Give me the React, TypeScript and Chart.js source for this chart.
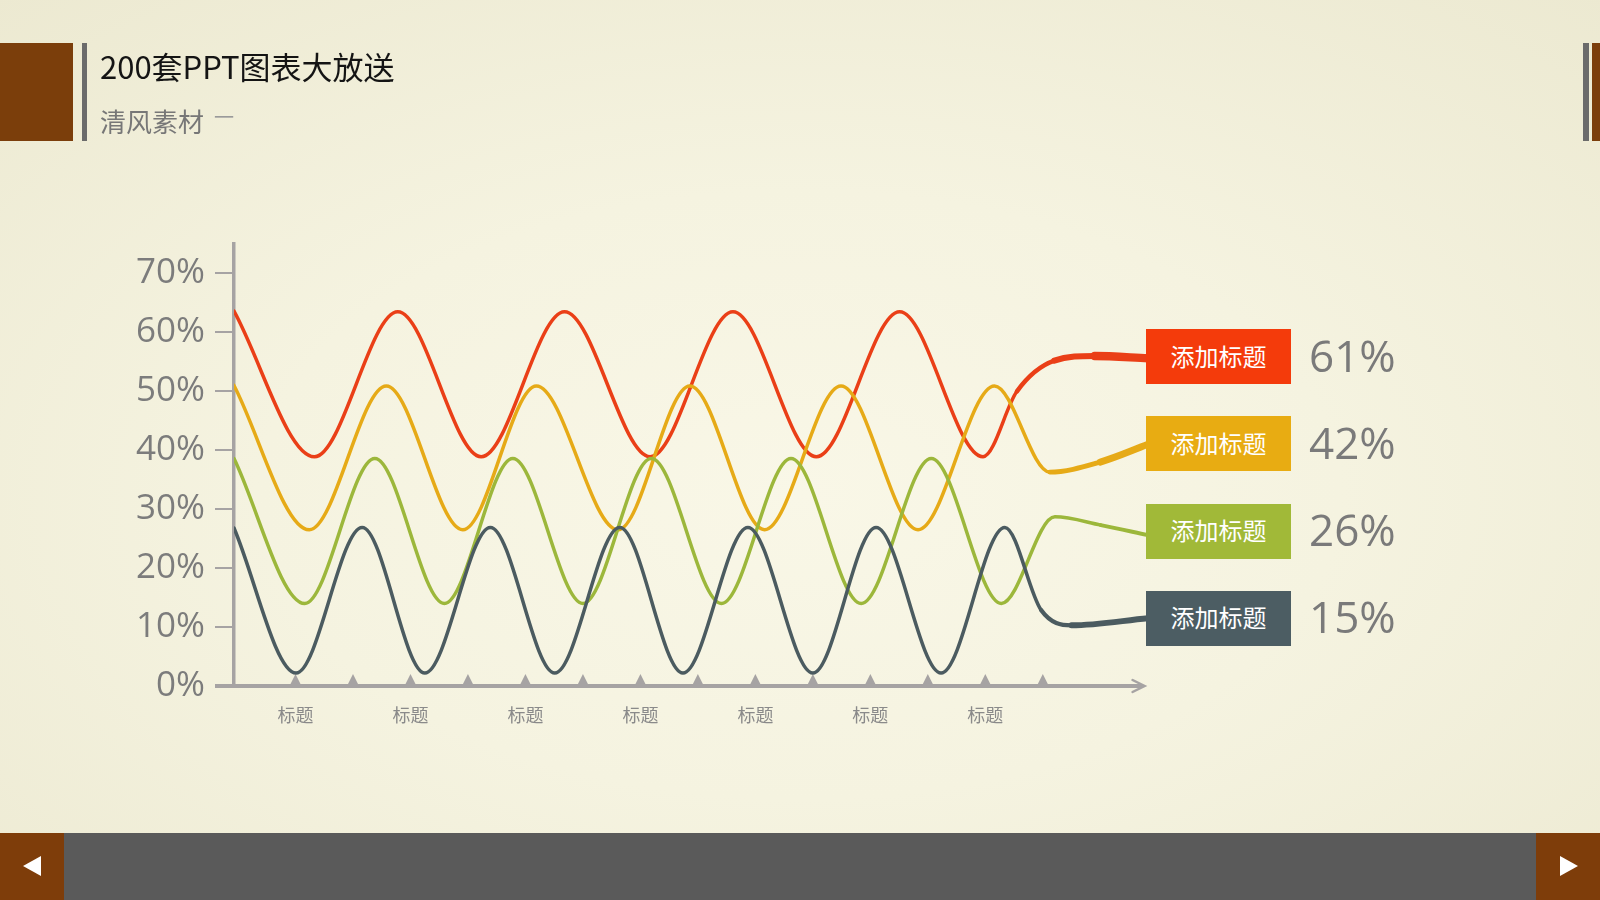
import React, { useEffect, useRef } from 'react';
import { Chart, registerables } from 'chart.js';

Chart.register(...registerables);

// ---------- data ----------
const xTickValues = [1, 2, 3, 4, 5, 6, 7, 8, 9, 10, 11, 12, 13, 14];
const xTickLabels = ['标题', '', '标题', '', '标题', '', '标题', '', '标题', '', '标题', '', '标题', ''];
const yMin = 0;
const yMax = 75;
const yStep = 10;

const seriesNames = ['添加标题', '添加标题', '添加标题', '添加标题'];
const seriesPercents = ['61%', '42%', '26%', '15%'];

const redX = [-0.07, 1.33, 2.78, 4.23, 5.68, 7.17, 8.61, 10.06, 11.51, 12.96, 13.55, 14.2, 14.9, 15.83];
const redY = [63.6, 38.9, 63.5, 38.9, 63.5, 38.9, 63.5, 38.9, 63.5, 38.9, 50.0, 55.2, 56.0, 55.6];

const yellowX = [-0.07, 1.24, 2.58, 3.91, 5.19, 6.61, 7.86, 9.16, 10.49, 11.83, 13.16, 14.12, 15.0, 15.83];
const yellowY = [51.0, 26.5, 50.9, 26.5, 50.9, 26.5, 50.9, 26.5, 50.9, 26.5, 50.9, 36.3, 38.0, 41.0];

const greenX = [-0.07, 1.16, 2.38, 3.59, 4.78, 6.0, 7.19, 8.41, 9.62, 10.84, 12.06, 13.28, 14.21, 15.01, 15.83];
const greenY = [38.6, 14.0, 38.6, 14.0, 38.6, 14.0, 38.6, 14.0, 38.6, 14.0, 38.6, 14.0, 28.7, 27.3, 25.6];

const darkX = [-0.07, 1.01, 2.16, 3.25, 4.39, 5.51, 6.64, 7.74, 8.87, 10.0, 11.1, 12.23, 13.34, 13.97, 14.5, 15.83];
const darkY = [26.8, 2.2, 26.9, 2.2, 26.9, 2.2, 26.9, 2.2, 26.9, 2.2, 26.9, 2.2, 26.9, 12.9, 10.3, 11.5];

// ---------- style ----------
const X_MIN = -0.07;
const X_MAX = 15.83;
const X_ARROW = 15.77;
const AXIS_COLOR = '#a6a3a3';
const LINE_COLORS = ['#ea3f17', '#e6aa17', '#9cb73b', '#4b5b60'];
const BOX_COLORS = ['#f43b0b', '#e8ac12', '#a1b938', '#4c5d63'];
const BASE_WIDTH = 3.5;
// per series: map of segment start index -> width (thickening tails)
const TAIL_WIDTHS: Record<number, number>[] = [
  { 10: 4.5, 11: 6, 12: 8.5 },
  { 11: 4.8, 12: 7 },
  { 13: 4, 14: 4.5 },
  { 13: 4.3, 14: 6 },
];
const CJK = '"Noto Sans CJK SC", "Noto Sans", sans-serif';
const NUM = '"Open Sans", "Noto Sans", sans-serif';

const axisPlugin = {
  id: 'slideAxis',
  beforeDatasetsDraw(chart: any) {
    const { ctx, chartArea, scales } = chart;
    const xs = scales.x;
    const ys = scales.y;
    const y0 = ys.getPixelForValue(0);
    const left = chartArea.left - 19;
    const tip = xs.getPixelForValue(X_ARROW);
    ctx.save();
    ctx.strokeStyle = AXIS_COLOR;
    ctx.fillStyle = AXIS_COLOR;
    ctx.lineWidth = 4;
    ctx.beginPath();
    ctx.moveTo(left, y0);
    ctx.lineTo(tip - 2, y0);
    ctx.stroke();
    // arrow head
    ctx.lineWidth = 2.5;
    ctx.lineCap = 'round';
    ctx.beginPath();
    ctx.moveTo(tip - 12, y0 - 6);
    ctx.lineTo(tip, y0);
    ctx.lineTo(tip - 12, y0 + 6);
    ctx.stroke();
    // triangles at ticks
    xTickValues.forEach((v) => {
      const px = xs.getPixelForValue(v);
      ctx.beginPath();
      ctx.moveTo(px - 6, y0);
      ctx.lineTo(px, y0 - 12);
      ctx.lineTo(px + 6, y0);
      ctx.closePath();
      ctx.fill();
    });
    ctx.restore();
  },
};

function buildDataset(xs: number[], ys: number[], i: number) {
  const tails = TAIL_WIDTHS[i];
  return {
    label: seriesNames[i],
    data: xs.map((x, k) => ({ x, y: ys[k] })),
    borderColor: LINE_COLORS[i],
    borderWidth: BASE_WIDTH,
    borderCapStyle: 'round' as const,
    borderJoinStyle: 'round' as const,
    cubicInterpolationMode: 'monotone' as const,
    pointRadius: 0,
    fill: false,
    segment: {
      borderWidth: (ctx: any) => (tails[ctx.p0DataIndex] !== undefined ? tails[ctx.p0DataIndex] : BASE_WIDTH),
    },
  };
}

function ChartCanvas() {
  const ref = useRef<HTMLCanvasElement | null>(null);
  useEffect(() => {
    if (!ref.current) return;
    const chart = new Chart(ref.current, {
      type: 'line',
      data: {
        datasets: [
          buildDataset(darkX, darkY, 3),
          buildDataset(greenX, greenY, 2),
          buildDataset(yellowX, yellowY, 1),
          buildDataset(redX, redY, 0),
        ],
      },
      options: {
        animation: false,
        responsive: false,
        events: [],
        layout: { padding: { left: 0, top: 244, right: 452, bottom: 164 } },
        plugins: { legend: { display: false }, tooltip: { enabled: false } },
        scales: {
          x: {
            type: 'linear',
            min: X_MIN,
            max: X_MAX,
            afterFit: (s: any) => { s.height = 50; },
            afterBuildTicks: (s: any) => { s.ticks = xTickValues.map((v) => ({ value: v })); },
            grid: { display: false, drawTicks: false },
            border: { display: false },
            ticks: {
              autoSkip: false,
              maxRotation: 0,
              padding: 18,
              color: '#8a8a8a',
              font: { size: 18, family: CJK },
              callback: (_v: any, i: number) => xTickLabels[i],
            },
          },
          y: {
            type: 'linear',
            min: yMin,
            max: yMax,
            afterFit: (s: any) => { s.width = 234; },
            grid: { display: true, drawOnChartArea: false, drawTicks: true, tickLength: 19, color: AXIS_COLOR, lineWidth: 2 },
            border: { display: true, color: AXIS_COLOR, width: 3.5 },
            ticks: {
              stepSize: yStep,
              includeBounds: false,
              padding: 10,
              color: '#7c7c7c',
              font: { size: 35, family: NUM },
              callback: (v: any) => `${v}%`,
            },
          },
        },
      },
      plugins: [axisPlugin],
    } as any);
    return () => chart.destroy();
  }, []);
  return <canvas ref={ref} width={1600} height={900} style={{ position: 'absolute', left: 0, top: 0, width: 1600, height: 900 }} />;
}

const abs = (s: React.CSSProperties): React.CSSProperties => ({ position: 'absolute', ...s });

export default function App() {
  return (
    <div
      style={{
        position: 'fixed',
        left: 0,
        top: 0,
        width: 1600,
        height: 900,
        overflow: 'hidden',
        background: 'radial-gradient(ellipse 75% 75% at 50% 55%, #f9f7e7 0%, #f5f3e0 45%, #ece9d1 100%)',
        fontFamily: CJK,
      }}
    >
      {/* header decorations */}
      <div style={abs({ left: 0, top: 43, width: 73, height: 98, background: '#7b3e0b' })} />
      <div style={abs({ left: 82, top: 43, width: 5, height: 98, background: '#6b6b6b' })} />
      <div style={abs({ left: 1583, top: 43, width: 6, height: 98, background: '#6b6b6b' })} />
      <div style={abs({ left: 1592, top: 43, width: 8, height: 98, background: '#7b3e0b' })} />
      <div style={abs({ left: 100, top: 45, height: 40, display: 'flex', alignItems: 'center', fontSize: 31, color: '#141414', whiteSpace: 'nowrap' })}>
        200套PPT图表大放送
      </div>
      <div style={abs({ left: 100, top: 100, height: 40, display: 'flex', alignItems: 'center', fontSize: 26, color: '#777777', whiteSpace: 'nowrap' })}>
        清风素材<span style={{ marginLeft: 10, fontSize: 20, color: '#9a9a9a', position: 'relative', top: -4 }}>一</span>
      </div>

      <ChartCanvas />

      {/* legend boxes */}
      {seriesNames.map((name, i) => (
        <React.Fragment key={i}>
          <div
            style={abs({
              left: 1146,
              top: 329 + i * 87.3,
              width: 145,
              height: 55,
              background: BOX_COLORS[i],
              color: '#ffffff',
              fontSize: 24,
              display: 'flex',
              alignItems: 'center',
              justifyContent: 'center',
              paddingBottom: 3,
              boxSizing: 'border-box',
            })}
          >
            {name}
          </div>
          <div
            style={abs({
              left: 1309,
              top: 327 + i * 87.3,
              height: 55,
              display: 'flex',
              alignItems: 'center',
              fontSize: 44,
              fontFamily: NUM,
              color: '#7a7a7a',
            })}
          >
            {seriesPercents[i]}
          </div>
        </React.Fragment>
      ))}

      {/* bottom bar */}
      <div style={abs({ left: 0, top: 833, width: 1600, height: 67, background: '#5a5a5a' })} />
      <div style={abs({ left: 0, top: 833, width: 64, height: 67, background: '#7e3d0a' })} />
      <div style={abs({ left: 1536, top: 833, width: 64, height: 67, background: '#7e3d0a' })} />
      <div style={abs({ left: 23, top: 856, width: 0, height: 0, borderTop: '10.5px solid transparent', borderBottom: '10.5px solid transparent', borderRight: '18px solid #ffffff' })} />
      <div style={abs({ left: 1560, top: 856, width: 0, height: 0, borderTop: '10.5px solid transparent', borderBottom: '10.5px solid transparent', borderLeft: '18px solid #ffffff' })} />
    </div>
  );
}
